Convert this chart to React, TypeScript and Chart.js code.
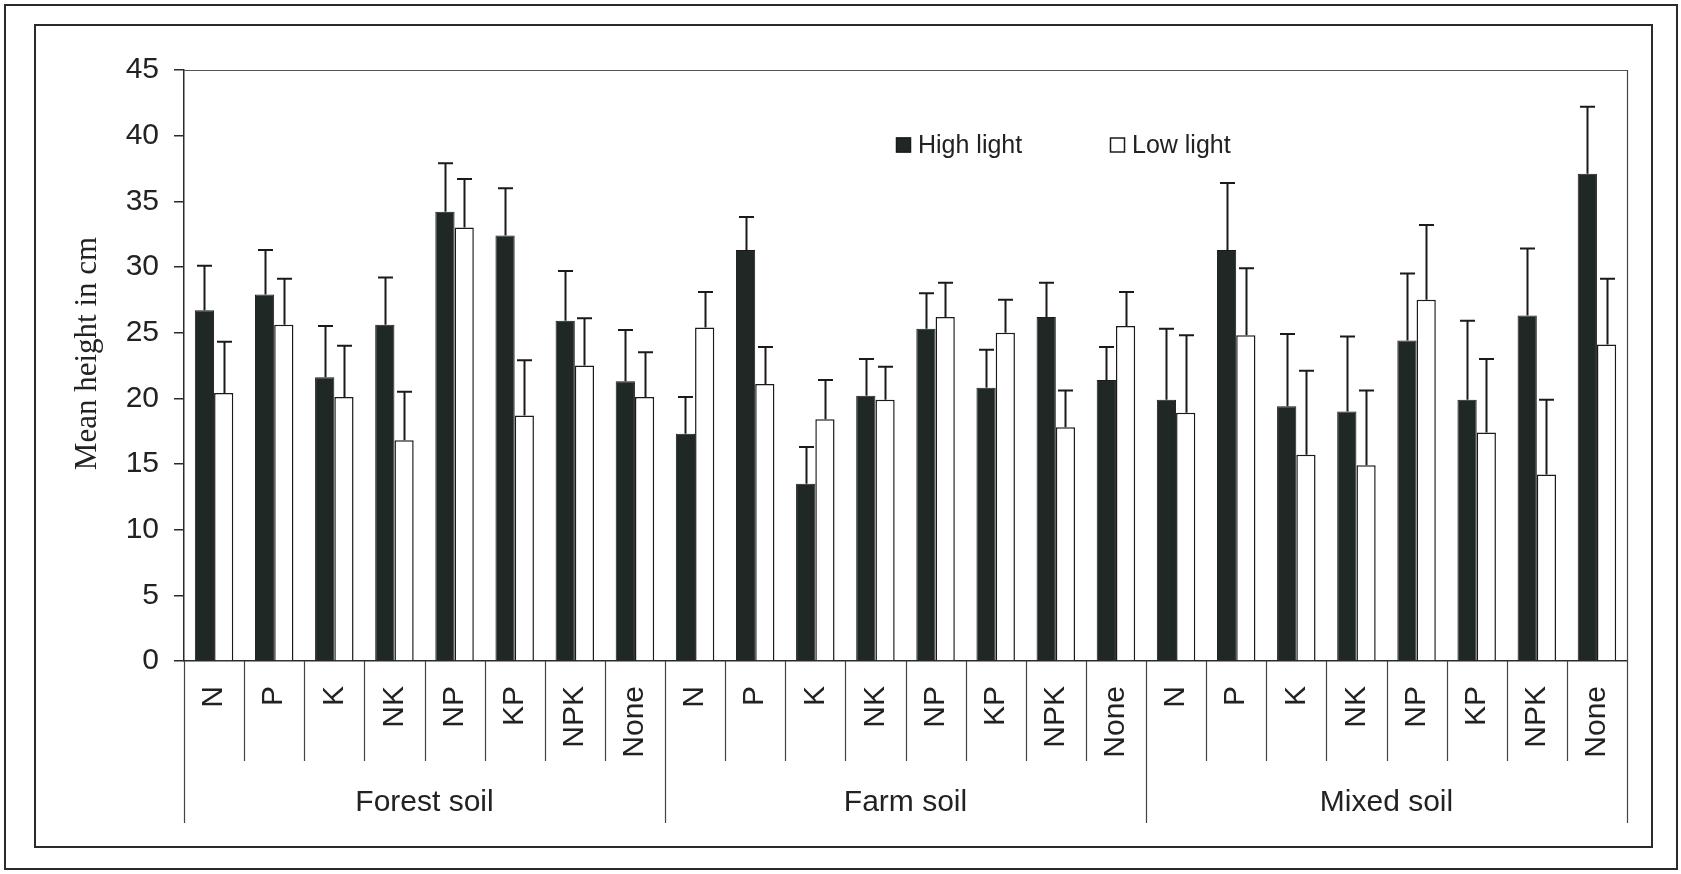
import React, { useEffect, useRef } from 'react';
import { Chart, registerables } from 'chart.js';

Chart.register(...registerables);

// ---------- data ----------
const treatments = ['N', 'P', 'K', 'NK', 'NP', 'KP', 'NPK', 'None'];
const soilGroups = ['Forest soil', 'Farm soil', 'Mixed soil'];
const categories = soilGroups.flatMap(() => treatments);

const seriesNames = ['High light', 'Low light'];

const highLight = [
  26.7, 27.9, 21.6, 25.6, 34.2, 32.4, 25.9, 21.3,
  17.3, 31.3, 13.5, 20.2, 25.3, 20.8, 26.2, 21.4,
  19.9, 31.3, 19.4, 19.0, 24.4, 19.9, 26.3, 37.1,
];
const highLightErr = [
  3.4, 3.4, 3.9, 3.6, 3.7, 3.6, 3.8, 3.9,
  2.8, 2.5, 2.8, 2.8, 2.7, 2.9, 2.6, 2.5,
  5.4, 5.1, 5.5, 5.7, 5.1, 6.0, 5.1, 5.1,
];
const lowLight = [
  20.4, 25.6, 20.1, 16.8, 33.0, 18.7, 22.5, 20.1,
  25.4, 21.1, 18.4, 19.9, 26.2, 25.0, 17.8, 25.5,
  18.9, 24.8, 15.7, 14.9, 27.5, 17.4, 14.2, 24.1,
];
const lowLightErr = [
  3.9, 3.5, 3.9, 3.7, 3.7, 4.2, 3.6, 3.4,
  2.7, 2.8, 3.0, 2.5, 2.6, 2.5, 2.8, 2.6,
  5.9, 5.1, 6.4, 5.7, 5.7, 5.6, 5.7, 5.0,
];

const yMin = 0;
const yMax = 45;
const yStep = 5;
const yTitle = 'Mean height in cm';

// ---------- styles ----------
const SANS = "'Liberation Sans', Arial, sans-serif";
const SERIF = "'Liberation Serif', 'Times New Roman', serif";
const INK = '#222222';
const DARK_FILL = '#1f2824';

const errorsByDataset = [highLightErr, lowLightErr];

const decorPlugin = {
  id: 'decor',
  beforeDraw(chart: any) {
    const { ctx, width, height } = chart;
    ctx.save();
    ctx.fillStyle = '#ffffff';
    ctx.fillRect(0, 0, width, height);
    ctx.strokeStyle = '#2a2a2a';
    ctx.lineWidth = 2;
    ctx.strokeRect(5, 5, 1672, 864);
    ctx.strokeRect(35, 25, 1617, 822);
    ctx.restore();
  },
  afterDatasetsDraw(chart: any) {
    const { ctx } = chart;
    const yScale = chart.scales.y;
    ctx.save();
    ctx.strokeStyle = '#1a1a1a';
    ctx.lineWidth = 2;
    chart.data.datasets.forEach((ds: any, di: number) => {
      const meta = chart.getDatasetMeta(di);
      const errs = errorsByDataset[di];
      meta.data.forEach((el: any, i: number) => {
        const v = ds.data[i];
        const topPx = yScale.getPixelForValue(v + errs[i]);
        const x = Math.round(el.x) + 0.5;
        ctx.beginPath();
        ctx.moveTo(x, el.y);
        ctx.lineTo(x, topPx);
        ctx.moveTo(x - 7.5, topPx);
        ctx.lineTo(x + 7.5, topPx);
        ctx.stroke();
      });
    });
    ctx.restore();
  },
  afterDraw(chart: any) {
    const { ctx, chartArea } = chart;
    const xScale = chart.scales.x;
    const n = categories.length;
    const per = treatments.length;
    ctx.save();
    // plot area top / right border
    ctx.strokeStyle = '#555555';
    ctx.lineWidth = 1.2;
    ctx.beginPath();
    ctx.moveTo(chartArea.left, chartArea.top + 0.5);
    ctx.lineTo(chartArea.right, chartArea.top + 0.5);
    ctx.stroke();

    // category separators below the axis
    ctx.strokeStyle = '#444444';
    ctx.lineWidth = 1.2;
    for (let i = 0; i <= n; i++) {
      let xPos: number;
      if (i === 0) xPos = chartArea.left;
      else if (i === n) xPos = chartArea.right;
      else xPos = (xScale.getPixelForValue(i - 1) + xScale.getPixelForValue(i)) / 2;
      const isGroup = i % per === 0;
      const bottom = chartArea.bottom + (isGroup ? 162 : 100);
      ctx.beginPath();
      ctx.moveTo(Math.round(xPos) + 0.5, i === n ? chartArea.top : chartArea.bottom);
      ctx.lineTo(Math.round(xPos) + 0.5, bottom);
      ctx.stroke();
    }

    // group labels
    ctx.fillStyle = INK;
    ctx.font = `30px ${SANS}`;
    ctx.textAlign = 'center';
    ctx.textBaseline = 'middle';
    soilGroups.forEach((g, gi) => {
      const x0 = xScale.getPixelForValue(gi * per);
      const x1 = xScale.getPixelForValue(gi * per + per - 1);
      ctx.fillText(g, (x0 + x1) / 2, chartArea.bottom + 142);
    });

    // y axis title
    ctx.save();
    ctx.translate(88, (chartArea.top + chartArea.bottom) / 2 - 12);
    ctx.rotate(-Math.PI / 2);
    ctx.font = `31px ${SERIF}`;
    ctx.textAlign = 'center';
    ctx.textBaseline = 'middle';
    ctx.fillText(yTitle, 0, 0);
    ctx.restore();

    // legend
    const legendX = [896, 1110];
    const legendY = 145;
    ctx.font = `25px ${SANS}`;
    ctx.textAlign = 'left';
    ctx.textBaseline = 'alphabetic';
    seriesNames.forEach((name, i) => {
      const ds = chart.data.datasets[i];
      ctx.fillStyle = ds.backgroundColor;
      ctx.fillRect(legendX[i], legendY - 7.5, 15, 15);
      ctx.strokeStyle = '#1a1a1a';
      ctx.lineWidth = 1.5;
      ctx.strokeRect(legendX[i] + 0.5, legendY - 7, 14, 14);
      ctx.fillStyle = INK;
      ctx.fillText(name, legendX[i] + 22, legendY + 8);
    });
    ctx.restore();
  },
};

export default function App() {
  const canvasRef = useRef<HTMLCanvasElement | null>(null);

  useEffect(() => {
    const canvas = canvasRef.current;
    if (!canvas) return;
    const chart = new Chart(canvas, {
      type: 'bar',
      data: {
        labels: categories,
        datasets: [
          {
            label: seriesNames[0],
            data: highLight,
            backgroundColor: DARK_FILL,
            borderColor: '#1a1a1a',
            borderWidth: 1,
            categoryPercentage: 0.64,
            barPercentage: 1.0,
          },
          {
            label: seriesNames[1],
            data: lowLight,
            backgroundColor: '#ffffff',
            borderColor: '#1a1a1a',
            borderWidth: 1.5,
            categoryPercentage: 0.64,
            barPercentage: 1.0,
          },
        ],
      },
      options: {
        responsive: false,
        animation: false,
        devicePixelRatio: 1,
        layout: { padding: { top: 70, right: 54, left: 0, bottom: 0 } },
        plugins: {
          legend: { display: false },
          tooltip: { enabled: false },
          title: { display: false },
        },
        scales: {
          x: {
            grid: { display: false, drawTicks: false },
            border: { display: true, color: '#2a2a2a', width: 1.5 },
            ticks: {
              autoSkip: false,
              minRotation: 90,
              maxRotation: 90,
              padding: 25,
              color: INK,
              font: { family: SANS, size: 30 },
            },
            afterFit: (s: any) => {
              s.height = 874 - 661;
            },
          },
          y: {
            min: yMin,
            max: yMax,
            ticks: {
              stepSize: yStep,
              padding: 15,
              color: INK,
              font: { family: SANS, size: 30 },
            },
            grid: {
              drawOnChartArea: false,
              drawTicks: true,
              tickLength: 10,
              color: '#2a2a2a',
              lineWidth: 1.5,
            },
            border: { display: true, color: '#2a2a2a', width: 1.5 },
            afterFit: (s: any) => {
              s.width = 184;
            },
          },
        },
      },
      plugins: [decorPlugin],
    });
    return () => chart.destroy();
  }, []);

  return (
    <div style={{ position: 'absolute', left: 0, top: 0, width: 1681, height: 874, overflow: 'hidden' }}>
      <canvas ref={canvasRef} width={1681} height={874} style={{ display: 'block', width: 1681, height: 874 }} />
    </div>
  );
}
